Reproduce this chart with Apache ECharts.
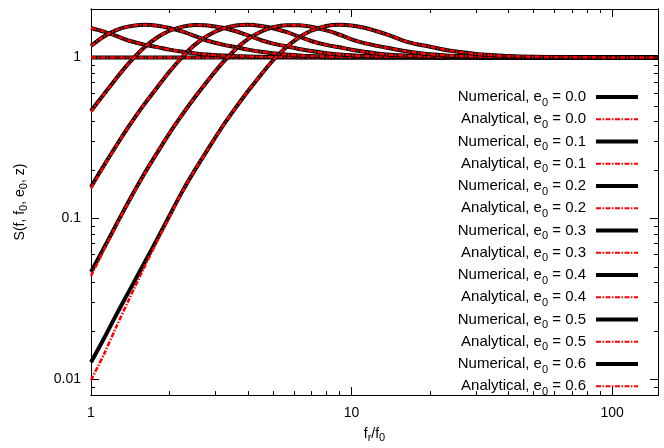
<!DOCTYPE html>
<html><head><meta charset="utf-8">
<script src="https://cdn.jsdelivr.net/npm/echarts@6.0.0/dist/echarts.min.js"></script>
<style>html,body{margin:0;padding:0;background:#fff}#c{width:664px;height:448px}</style>
</head><body><div id="c"></div>
<script>
// f_r / f_0 sample positions
const xValues = [1, 1.12, 1.25, 1.4, 1.6, 1.8, 2, 2.25, 2.5, 2.8, 3.2, 3.6, 4, 4.5, 5, 5.6, 6.3, 7, 8, 9, 10, 11.2, 12.5, 14, 16, 18, 20, 23, 26, 30, 35, 40, 50, 65, 80, 100, 150];

const eccLabels = ['0.0', '0.1', '0.2', '0.3', '0.4', '0.5', '0.6'];

// Numerical curves
const num00 = [1,1,1,1,1,1,1,1,1,1,1,1,1,1,1,1,1,1,1,1,1,1,1,1,1,1,1,1,1,1,1,1,1,1,1,1,1];
const num01 = [1.525,1.448,1.361,1.27,1.202,1.159,1.119,1.084,1.062,1.042,1.028,1.019,1.014,1.009,1.008,1.007,1.004,1.002,1.001,1,1,1,1,1,1,1,1,1,1,1,1,1,1,1,1,1,1];
const num02 = [1.18,1.35,1.48,1.56,1.595,1.575,1.525,1.448,1.361,1.27,1.202,1.159,1.119,1.084,1.062,1.042,1.029,1.02,1.014,1.009,1.008,1.007,1.004,1.002,1.002,1.001,1,1,1,1,1,1,1,1,1,1,1];
const num03 = [0.465,0.59,0.741,0.925,1.153,1.335,1.465,1.555,1.59,1.58,1.53,1.455,1.371,1.279,1.219,1.175,1.13,1.096,1.064,1.045,1.033,1.021,1.016,1.011,1.009,1.007,1.005,1.002,1.002,1.001,1,1,1,1,1,1,1];
const num04 = [0.157,0.213,0.283,0.376,0.511,0.656,0.815,1.014,1.197,1.365,1.51,1.58,1.595,1.568,1.52,1.44,1.346,1.265,1.197,1.156,1.117,1.084,1.059,1.04,1.028,1.018,1.014,1.009,1.007,1.005,1.002,1.002,1.001,1,1,1,1];
const num05 = [0.0466,0.0653,0.0916,0.129,0.189,0.258,0.338,0.446,0.564,0.715,0.929,1.13,1.3,1.45,1.54,1.588,1.588,1.553,1.472,1.384,1.297,1.227,1.18,1.14,1.096,1.067,1.047,1.03,1.02,1.014,1.009,1.007,1.003,1.001,1,1,1];
const num06 = [0.0128,0.0179,0.0252,0.0354,0.0527,0.0752,0.104,0.149,0.199,0.267,0.374,0.49,0.617,0.785,0.961,1.153,1.335,1.465,1.57,1.595,1.58,1.53,1.455,1.371,1.265,1.205,1.167,1.114,1.081,1.052,1.033,1.02,1.01,1.006,1.002,1.001,1];

// Analytical curves
const ana00 = [1,1,1,1,1,1,1,1,1,1,1,1,1,1,1,1,1,1,1,1,1,1,1,1,1,1,1,1,1,1,1,1,1,1,1,1,1];
const ana01 = [1.525,1.448,1.361,1.27,1.202,1.159,1.119,1.084,1.062,1.042,1.028,1.019,1.014,1.009,1.008,1.007,1.004,1.002,1.001,1,1,1,1,1,1,1,1,1,1,1,1,1,1,1,1,1,1];
const ana02 = [1.18,1.35,1.48,1.56,1.595,1.575,1.525,1.448,1.361,1.27,1.202,1.159,1.119,1.084,1.062,1.042,1.029,1.02,1.014,1.009,1.008,1.007,1.004,1.002,1.002,1.001,1,1,1,1,1,1,1,1,1,1,1];
const ana03 = [0.46,0.588,0.74,0.925,1.153,1.335,1.465,1.555,1.59,1.58,1.53,1.455,1.371,1.279,1.219,1.175,1.13,1.096,1.064,1.045,1.033,1.021,1.016,1.011,1.009,1.007,1.005,1.002,1.002,1.001,1,1,1,1,1,1,1];
const ana04 = [0.154,0.211,0.282,0.375,0.511,0.656,0.815,1.014,1.197,1.365,1.51,1.58,1.595,1.568,1.52,1.44,1.346,1.265,1.197,1.156,1.117,1.084,1.059,1.04,1.028,1.018,1.014,1.009,1.007,1.005,1.002,1.002,1.001,1,1,1,1];
const ana05 = [0.044,0.0635,0.0905,0.128,0.188,0.258,0.338,0.446,0.564,0.715,0.929,1.13,1.3,1.45,1.54,1.588,1.588,1.553,1.472,1.384,1.297,1.227,1.18,1.14,1.096,1.067,1.047,1.03,1.02,1.014,1.009,1.007,1.003,1.001,1,1,1];
const ana06 = [0.0099,0.0143,0.0212,0.0315,0.0495,0.073,0.102,0.149,0.199,0.267,0.374,0.49,0.617,0.785,0.961,1.153,1.335,1.465,1.57,1.595,1.58,1.53,1.455,1.371,1.265,1.205,1.167,1.114,1.081,1.052,1.033,1.02,1.01,1.006,1.002,1.001,1];

// Tick values
const xMajorTicks = [1, 10, 100];
const xMinorTicks = [2, 3, 4, 5, 6, 7, 8, 9, 20, 30, 40, 50, 60, 70, 80, 90];
const yMajorTicks = [0.01, 0.1, 1];
const yMinorTicks = [0.009, 0.02, 0.03, 0.04, 0.05, 0.06, 0.07, 0.08, 0.09, 0.2, 0.3, 0.4, 0.5, 0.6, 0.7, 0.8, 0.9];

const numericalSets = [num00, num01, num02, num03, num04, num05, num06];
const analyticalSets = [ana00, ana01, ana02, ana03, ana04, ana05, ana06];

const FONT = '"Liberation Sans", Arial, Helvetica, sans-serif';
const X_MIN = 1, X_MAX = 150, Y_MIN = 0.008, Y_MAX = 2;
const NUM_LINE = { color: '#000', width: 4 };
const ANA_LINE = { color: '#ff0000', width: 2, type: [5, 1.5, 1.5, 1.5] };
const ANA_PLOT_LINE = { color: '#ff0000', width: 2.5, type: [5, 1.5, 1.5, 1.5] };

function xAxisDef(position, ticks, len, labels, extra) {
  return Object.assign({
    type: 'log', logBase: 10, min: X_MIN, max: X_MAX, position: position,
    axisLine: { show: true, onZero: false, lineStyle: { color: '#000', width: 1 } },
    axisTick: { show: true, inside: true, length: len, customValues: ticks, lineStyle: { color: '#000', width: 1 } },
    axisLabel: labels ? { show: true, customValues: ticks, color: '#000', fontSize: 14, fontFamily: FONT, margin: 11 } : { show: false },
    splitLine: { show: false }, minorTick: { show: false }
  }, extra || {});
}
function yAxisDef(position, ticks, len, labels, extra) {
  return Object.assign({
    type: 'log', logBase: 10, min: Y_MIN, max: Y_MAX, position: position,
    axisLine: { show: true, onZero: false, lineStyle: { color: '#000', width: 1 } },
    axisTick: { show: true, inside: true, length: len, customValues: ticks, lineStyle: { color: '#000', width: 1 } },
    axisLabel: labels ? { show: true, customValues: ticks, color: '#000', fontSize: 14, fontFamily: FONT, margin: 10 } : { show: false },
    splitLine: { show: false }, minorTick: { show: false }
  }, extra || {});
}

const series = [];
const legendData = [];
eccLabels.forEach((e, i) => {
  const nName = 'Numerical, e0 = ' + e;
  const aName = 'Analytical, e0 = ' + e;
  legendData.push({ name: nName, lineStyle: Object.assign({}, NUM_LINE) });
  legendData.push({ name: aName, lineStyle: Object.assign({}, ANA_LINE) });
  series.push({
    name: nName, type: 'line', xAxisIndex: 0, yAxisIndex: 0,
    data: xValues.map((x, k) => [x, numericalSets[i][k]]),
    showSymbol: false, symbol: 'none', smooth: 0.3,
    lineStyle: Object.assign({ join: 'round' }, NUM_LINE), itemStyle: { color: '#000' }
  });
  series.push({
    name: aName, type: 'line', xAxisIndex: 0, yAxisIndex: 0,
    data: xValues.map((x, k) => [x, analyticalSets[i][k]]),
    showSymbol: false, symbol: 'none', smooth: 0.3,
    lineStyle: Object.assign({}, ANA_PLOT_LINE), itemStyle: { color: '#ff0000' }
  });
});

const chart = echarts.init(document.getElementById('c'), null, { renderer: 'canvas' });
chart.setOption({
  animation: false,
  backgroundColor: '#fff',
  grid: { left: 91, right: 6, top: 9, bottom: 46, containLabel: false },
  xAxis: [
    xAxisDef('bottom', xMajorTicks, 8, true, {
      name: 'f{sub|r}/f{sub|0}', nameLocation: 'middle', nameGap: 22,
      nameTextStyle: { color: '#000', fontSize: 14, fontFamily: FONT, verticalAlign: 'top', lineHeight: 18,
        rich: { sub: { fontSize: 11, fontFamily: FONT, verticalAlign: 'bottom', lineHeight: 11, color: '#000' } } }
    }),
    xAxisDef('bottom', xMinorTicks, 4, false),
    xAxisDef('top', xMajorTicks, 8, false),
    xAxisDef('top', xMinorTicks, 4, false)
  ],
  yAxis: [
    yAxisDef('left', yMajorTicks, 8, true, {
      name: 'S(f, f{sub|0}, e{sub|0}, z)', nameLocation: 'middle', nameGap: 62, nameRotate: 90,
      nameTextStyle: { color: '#000', fontSize: 14, fontFamily: FONT, lineHeight: 18,
        rich: { sub: { fontSize: 11, fontFamily: FONT, verticalAlign: 'bottom', lineHeight: 11, color: '#000' } } }
    }),
    yAxisDef('left', yMinorTicks, 4, false),
    yAxisDef('right', yMajorTicks, 8, false),
    yAxisDef('right', yMinorTicks, 4, false)
  ],
  legend: {
    orient: 'vertical', right: 24, top: 86, padding: 0, align: 'right',
    itemWidth: 42, itemHeight: 14, itemGap: 0.25, selectedMode: false,
    itemStyle: { opacity: 0, borderWidth: 0 },
    data: legendData,
    formatter: n => n.replace('e0', 'e{sub|0}'),
    textStyle: { color: '#000', fontSize: 15, fontFamily: FONT, lineHeight: 22, padding: [0, 5, 0, 0],
      rich: { sub: { fontSize: 11, fontFamily: FONT, verticalAlign: 'bottom', lineHeight: 11, color: '#000' } } }
  },
  series: series
});
</script></body></html>
